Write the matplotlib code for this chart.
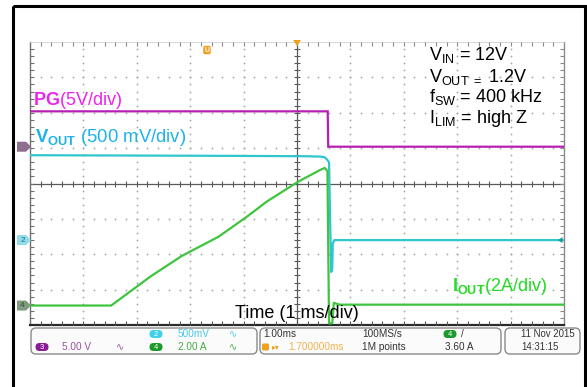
import numpy as np
import matplotlib
matplotlib.use("Agg")
import matplotlib.pyplot as plt
from matplotlib.patches import Rectangle, FancyBboxPatch, Polygon

plt.rcParams['font.family'] = ['Liberation Sans', 'DejaVu Sans']
plt.rcParams['mathtext.fontset'] = 'custom'
plt.rcParams['mathtext.rm'] = 'Liberation Sans'
plt.rcParams['mathtext.bf'] = 'Liberation Sans:bold'
plt.rcParams['mathtext.it'] = 'Liberation Sans:italic'
plt.rcParams['mathtext.sf'] = 'Liberation Sans'

# ---- captured waveforms (time in ms, 1 ms/div, 10 divisions) ----
pg_time_ms = [0.0, 5.575, 5.585, 10.0]
pg_volts = [5.0, 5.0, 0.0, 0.0]

vout_time_ms = [0.0, 2.0, 4.0, 5.2, 5.45, 5.52, 5.56, 5.60, 5.62, 5.64, 5.66, 5.67, 5.70, 10.0]
vout_volts = [1.20, 1.195, 1.19, 1.185, 1.18, 1.17, 1.14, 1.10, 0.30, -0.45, -0.40, -0.05, 0.0, 0.0]

iout_time_ms = [0.0, 1.52, 2.25, 2.84, 3.53, 4.06, 4.43, 5.02, 5.43, 5.52, 5.57,
                5.60, 5.66, 5.69, 5.80, 10.0]
iout_amps = [0.0, 0.0, 1.63, 2.80, 3.89, 5.02, 5.87, 7.00, 7.66, 7.78, 7.60,
             -1.0, -1.0, 0.15, 0.05, 0.05]

# channel settings: volts (or amps) per division and ground position in divisions
pg_scale, pg_pos = 5.0, 1.04
vout_scale, vout_pos = 0.5, -1.6
iout_scale, iout_pos = 2.0, -3.45

# status-bar readouts
ch2_setting = "500mV"
ch3_setting = "5.00 V"
ch4_setting = "2.00 A"
timebase = "1.00ms"
h_position = "1.700000ms"
sample_rate = "100MS/s"
record_len = "1M points"
trig_level = "3.60 A"
date_str = "11 Nov 2015"
time_str = "14:31:15"

PG_COL = "#b61fb6"
PG_TXT = "#ee22ee"
VOUT_COL = "#2fc6cf"
VOUT_TXT = "#1eb2ea"
IOUT_COL = "#3ec43e"
IOUT_TXT = "#22dd22"
ORANGE = "#f0a020"

W, H = 587, 387
fig = plt.figure(figsize=(W / 100, H / 100), dpi=100, facecolor="white")

# graticule area (pixel box 30..564 x 42..325)
gx0, gx1, gy0, gy1 = 30, 564, 42, 325
rect = [gx0 / W, 1 - gy1 / H, (gx1 - gx0) / W, (gy1 - gy0) / H]
ax = fig.add_axes(rect)
ax.set_xlim(0, 10)
ax.set_ylim(-4, 4)
ax.set_axis_off()

# dotted division grid
minor_y = np.round(np.arange(-3.8, 3.81, 0.2), 2)
minor_x = np.round(np.arange(0.2, 9.81, 0.2), 2)
for gx in [1, 2, 3, 4, 6, 7, 8, 9]:
    ax.plot(np.full_like(minor_y, gx), minor_y, ls="none", marker="o", ms=1.3,
            mec="none", mfc="#a8a8a8")
for gy in [-3, -2, -1, 1, 2, 3]:
    ax.plot(minor_x, np.full_like(minor_x, gy), ls="none", marker="o", ms=1.3,
            mec="none", mfc="#a8a8a8")

# centre cross with fine ticks
ax.axhline(0, color="#5a5a5a", lw=0.9)
ax.axvline(5, color="#5a5a5a", lw=0.9)
ax.plot(minor_x, np.zeros_like(minor_x), ls="none", marker="|", ms=4, mew=0.8, color="#5a5a5a")
ax.plot(np.full_like(minor_y, 5), minor_y, ls="none", marker="_", ms=4, mew=0.8, color="#5a5a5a")

# graticule border with inward ticks
ax.plot([0, 0], [-4, 4], color="#707070", lw=1.0, clip_on=False)
ax.plot([10, 10], [-4, 4], color="#8a8a8a", lw=1.0, clip_on=False)
ax.plot([0, 10], [4, 4], color="#d0d0d0", lw=0.6, clip_on=False)
ax.plot([0, 10], [-4, -4], color="#2a2a2a", lw=1.6, clip_on=False)
ax.plot(minor_x, np.full_like(minor_x, 4), ls="none", marker=3, ms=3, mew=0.8, color="#8a8a8a", clip_on=False)
ax.plot(minor_x, np.full_like(minor_x, -4), ls="none", marker=2, ms=3, mew=0.8, color="#555555", clip_on=False)
ax.plot(np.zeros_like(minor_y), minor_y, ls="none", marker=1, ms=3, mew=0.8, color="#707070", clip_on=False)
ax.plot(np.full_like(minor_y, 10), minor_y, ls="none", marker=0, ms=3, mew=0.8, color="#8a8a8a", clip_on=False)

# one overlaid axis per channel, each with its own vertical scale
def channel_axis(scale, pos):
    cax = ax.twinx()
    cax.set_ylim((-4 - pos) * scale, (4 - pos) * scale)
    cax.set_axis_off()
    return cax

ax_pg = channel_axis(pg_scale, pg_pos)
ax_vo = channel_axis(vout_scale, vout_pos)
ax_io = channel_axis(iout_scale, iout_pos)

ax_pg.plot(pg_time_ms, pg_volts, color=PG_COL, lw=1.6, solid_joinstyle="miter")
ax_vo.plot(vout_time_ms, vout_volts, color=VOUT_COL, lw=1.6)
ax_io.plot(iout_time_ms, iout_amps, color=IOUT_COL, lw=1.6)

# ---- overlay in pixel coordinates: frame, labels, readouts ----
ov = fig.add_axes([0, 0, 1, 1], zorder=10)
ov.set_xlim(0, W)
ov.set_ylim(H, 0)
ov.set_axis_off()
ov.patch.set_visible(False)

ov.add_patch(Rectangle((13, 6), 572, 400, fill=False, ec="black", lw=2.2, clip_on=False))

fig.canvas.draw()

def level_to_pixel(cax, level):
    # pixel row (from top) of a channel value
    return H - cax.transData.transform((0, level))[1]

# channel ground markers on the left edge
def left_marker(cax, fc, label, tc):
    y_pix = level_to_pixel(cax, 0.0)
    pts = [(17, y_pix - 5), (26, y_pix - 5), (31, y_pix), (26, y_pix + 5), (17, y_pix + 5)]
    ov.add_patch(Polygon(pts, closed=True, fc=fc, ec="none"))
    if label:
        ov.text(22.5, y_pix + 0.3, label, ha="center", va="center", fontsize=6, color=tc)

left_marker(ax_pg, "#8e6e8e", "", "white")
left_marker(ax_vo, "#8fdcea", "2", "#2a6f80")
left_marker(ax_io, "#7f9c7f", "4", "#2f4f2f")

# reference arrow on the right end of channel 2
yv = level_to_pixel(ax_vo, 0.0)
ov.add_patch(Polygon([(558, yv), (562.5, yv - 3), (562.5, yv + 3)], closed=True, fc="#1f9a88", ec="none"))

# trigger markers along the top
ov.add_patch(Polygon([(293, 40), (301, 40), (297, 46)], closed=True, fc=ORANGE, ec="none"))
ov.add_patch(FancyBboxPatch((203.5, 46), 7, 8, boxstyle="round,pad=0.3,rounding_size=2",
                            fc=ORANGE, ec="none"))
ov.text(207, 50.5, "U", ha="center", va="center", fontsize=5, color="white", fontweight="bold")

# trace annotations
ov.text(33, 105, r"$\mathbf{PG}$(5V/div)", color=PG_TXT, fontsize=13, va="baseline")
ov.text(35, 142, r"$\mathbf{V_{OUT}}$ (500 mV/div)", color=VOUT_TXT, fontsize=13.3, va="baseline")
ov.text(452, 291, r"$\mathbf{I_{OUT}}$(2A/div)", color=IOUT_TXT, fontsize=13, va="baseline")
ov.text(235, 318, "Time (1 ms/div)", color="black", fontsize=13, va="baseline")

cond_lines = [r"V$_{\mathrm{IN}}$ = 12V",
              r"V$_{\mathrm{OUT}\ =}$ 1.2V",
              r"f$_{\mathrm{SW}}$ = 400 kHz",
              r"I$_{\mathrm{LIM}}$ = high Z"]
for txt, yb in zip(cond_lines, [60, 82, 102, 123]):
    ov.text(429, yb, txt, color="black", fontsize=13, va="baseline")

# status bar
for x0, x1 in [(31, 257), (260, 501), (505, 580)]:
    ov.add_patch(FancyBboxPatch((x0, 328), x1 - x0, 26,
                                boxstyle="round,pad=0,rounding_size=5",
                                fc="#fbfbfb", ec="#8a8a8a", lw=1.0))

def badge(xc, yc, label, fc):
    ov.add_patch(FancyBboxPatch((xc - 6.5, yc - 4), 13, 8,
                                boxstyle="round,pad=0,rounding_size=4", fc=fc, ec="none"))
    ov.text(xc, yc + 0.3, label, ha="center", va="center", fontsize=5.5, color="white")

r1, r2 = 334, 347
sfs = 7.2
badge(156, r1, "2", "#3fd0ea")
badge(42, r2, "3", "#8a1c96")
badge(156, r2, "4", "#1c9a2c")
badge(450, r1, "4", "#1c9a2c")

ov.text(178, r1, ch2_setting, color="#49c8e8", fontsize=sfs, va="center")
ov.text(62, r2, ch3_setting, color="#9b4fa3", fontsize=sfs, va="center")
ov.text(178, r2, ch4_setting, color="#43aa43", fontsize=sfs, va="center")
ov.text(233, r1, "\u223f", color="#49c8e8", fontsize=7, va="center", ha="center", family="DejaVu Sans")
ov.text(120, r2, "\u223f", color="#9b4fa3", fontsize=7, va="center", ha="center", family="DejaVu Sans")
ov.text(233, r2, "\u223f", color="#43aa43", fontsize=7, va="center", ha="center", family="DejaVu Sans")

ov.text(263, r1, timebase, color="#333333", fontsize=sfs, va="center")
ov.add_patch(FancyBboxPatch((262, r2 - 3.5), 7, 7, boxstyle="round,pad=0,rounding_size=1.5",
                            fc=ORANGE, ec="none"))
ov.text(272, r2, "\u25b8\u25be", color=ORANGE, fontsize=5.5, va="center", family="DejaVu Sans")
ov.text(288, r2, h_position, color="#f2b24a", fontsize=sfs, va="center")
ov.text(362, r1, sample_rate, color="#333333", fontsize=sfs, va="center")
ov.text(362, r2, record_len, color="#333333", fontsize=sfs, va="center")
ov.text(461, r1, "/", color="#333333", fontsize=sfs, va="center")
ov.text(445, r2, trig_level, color="#333333", fontsize=sfs, va="center")
ov.text(521, r1, date_str, color="#333333", fontsize=6.9, va="center")
ov.text(521, r2, time_str, color="#333333", fontsize=6.9, va="center")

fig.savefig("out.png", dpi=100, facecolor="white")
